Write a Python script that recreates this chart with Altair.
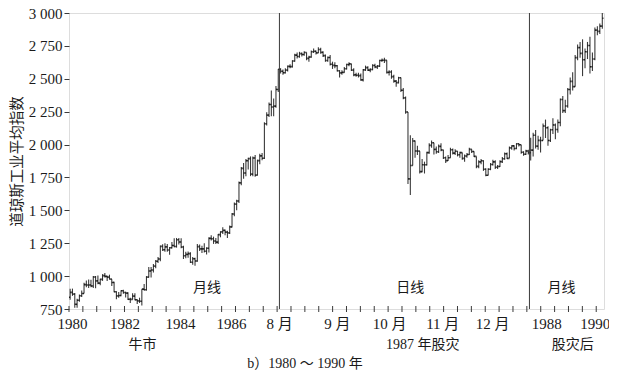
import json
import altair as alt
import pandas as pd

# ---------------- data ----------------
# Segment 1: monthly bars, Jan 1980 - Jul 1987
open1 = [839, 876, 863, 786, 817, 851, 868, 935, 933, 932, 925, 993,
         964, 947, 975, 1004, 998, 992, 977, 952, 881, 850, 853, 889,
         875, 871, 824, 823, 848, 820, 812, 809, 901, 896, 992, 1039,
         1047, 1076, 1113, 1130, 1226, 1200, 1222, 1199, 1216, 1233, 1225, 1276,
         1259, 1221, 1155, 1165, 1171, 1105, 1132, 1115, 1224, 1207, 1207, 1189,
         1212, 1287, 1284, 1267, 1258, 1315, 1336, 1348, 1334, 1329, 1374, 1472,
         1547, 1571, 1709, 1819, 1784, 1877, 1893, 1775, 1898, 1768, 1878, 1914,
         1896, 2158, 2224, 2305, 2286, 2292, 2419]
high1 = [903, 905, 872, 828, 861, 890, 950, 966, 974, 972, 1000, 1000,
         1004, 980, 1015, 1024, 1002, 1011, 977, 958, 884, 879, 892, 896,
         882, 877, 835, 870, 869, 825, 836, 901, 940, 1000, 1070, 1070,
         1093, 1122, 1145, 1233, 1242, 1250, 1245, 1222, 1260, 1287, 1290, 1290,
         1287, 1231, 1185, 1188, 1182, 1145, 1140, 1245, 1240, 1230, 1250, 1220,
         1295, 1310, 1300, 1290, 1320, 1340, 1372, 1355, 1345, 1384, 1480, 1560,
         1580, 1720, 1830, 1860, 1890, 1900, 1910, 1910, 1920, 1885, 1930, 1935,
         2170, 2245, 2320, 2410, 2350, 2445, 2575]
low1 = [820, 850, 759, 759, 805, 842, 868, 915, 910, 915, 910, 908,
        938, 931, 964, 990, 963, 976, 924, 877, 824, 836, 847, 866,
        837, 818, 795, 822, 816, 788, 796, 776, 890, 890, 990, 990,
        1027, 1060, 1100, 1113, 1190, 1185, 1185, 1163, 1210, 1220, 1217, 1240,
        1212, 1130, 1135, 1140, 1100, 1087, 1078, 1110, 1190, 1175, 1180, 1165,
        1180, 1270, 1245, 1245, 1245, 1295, 1320, 1310, 1290, 1320, 1370, 1455,
        1500, 1555, 1690, 1740, 1760, 1810, 1760, 1760, 1755, 1765, 1850, 1880,
        1890, 2145, 2210, 2215, 2215, 2280, 2400]
close1 = [876, 863, 786, 817, 851, 868, 935, 933, 932, 925, 993, 964,
          947, 975, 1004, 998, 992, 977, 952, 881, 850, 853, 889, 875,
          871, 824, 823, 848, 820, 812, 809, 901, 896, 992, 1039, 1047,
          1076, 1113, 1130, 1226, 1200, 1222, 1199, 1216, 1233, 1225, 1276, 1259,
          1221, 1155, 1165, 1171, 1105, 1132, 1115, 1224, 1207, 1207, 1189, 1212,
          1287, 1284, 1267, 1258, 1315, 1336, 1348, 1334, 1329, 1374, 1472, 1547,
          1571, 1709, 1819, 1784, 1877, 1893, 1775, 1898, 1768, 1878, 1914, 1896,
          2158, 2224, 2305, 2286, 2292, 2419, 2572]

# Segment 2: daily bars, Aug - Dec 1987
open2 = [2572, 2557, 2546, 2566, 2594, 2592, 2635, 2680, 2669, 2691, 2685, 2700, 2655, 2665, 2706, 2709, 2697, 2722, 2701, 2676, 2639,
         2662, 2610, 2602, 2599, 2561, 2545, 2549, 2576, 2608, 2613, 2566, 2530, 2527, 2524, 2492, 2568, 2585, 2566, 2570, 2601, 2590,
         2596, 2639, 2641, 2640, 2549, 2551, 2516, 2482, 2471, 2508, 2413, 2355, 2247, 1739, 1841, 2027, 1951, 1950, 1794, 1846, 1847, 1939,
         1994, 2014, 1963, 1945, 1986, 1959, 1900, 1878, 1900, 1960, 1935, 1949, 1922, 1939, 1895, 1913, 1924, 1963, 1947, 1910,
         1834, 1868, 1877, 1812, 1767, 1812, 1848, 1868, 1828, 1833, 1870, 1892, 1930, 1895, 1975, 1990, 1970, 2006, 1999, 1942, 1926, 1951]
high2 = [2580, 2570, 2580, 2600, 2610, 2640, 2690, 2700, 2705, 2700, 2710, 2700, 2675, 2715, 2730, 2715, 2740, 2735, 2710, 2685, 2670,
         2680, 2630, 2625, 2605, 2565, 2565, 2590, 2615, 2625, 2615, 2580, 2545, 2545, 2540, 2575, 2600, 2595, 2580, 2610, 2615, 2605,
         2645, 2655, 2660, 2640, 2565, 2565, 2530, 2490, 2515, 2510, 2430, 2365, 2247, 2070, 2050, 2030, 1990, 1950, 1890, 1870, 1945, 2010,
         2030, 2014, 1985, 2000, 2010, 1960, 1910, 1920, 1975, 1970, 1965, 1950, 1945, 1940, 1925, 1935, 1975, 1965, 1950, 1910,
         1880, 1890, 1880, 1820, 1820, 1860, 1885, 1880, 1845, 1880, 1905, 1940, 1940, 1985, 1995, 1995, 2010, 2010, 1999, 1950, 1960, 1960]
low2 = [2540, 2530, 2540, 2555, 2580, 2585, 2630, 2655, 2660, 2670, 2675, 2640, 2630, 2660, 2695, 2685, 2695, 2690, 2665, 2630, 2630,
        2600, 2575, 2580, 2555, 2510, 2530, 2545, 2570, 2595, 2560, 2520, 2515, 2510, 2485, 2480, 2560, 2560, 2550, 2565, 2580, 2575,
        2590, 2630, 2620, 2540, 2525, 2500, 2470, 2440, 2465, 2400, 2345, 2235, 1700, 1616, 1840, 1900, 1920, 1780, 1790, 1780, 1840, 1930,
        1975, 1925, 1930, 1935, 1950, 1890, 1860, 1875, 1900, 1925, 1920, 1910, 1900, 1885, 1870, 1900, 1920, 1935, 1905, 1820,
        1820, 1850, 1800, 1760, 1765, 1805, 1840, 1815, 1815, 1830, 1860, 1885, 1890, 1895, 1960, 1955, 1965, 1985, 1930, 1915, 1920, 1925]
close2 = [2557, 2546, 2566, 2594, 2592, 2635, 2680, 2669, 2691, 2685, 2700, 2655, 2665, 2706, 2709, 2697, 2722, 2701, 2676, 2639, 2662,
          2610, 2602, 2599, 2561, 2545, 2549, 2576, 2608, 2613, 2566, 2530, 2527, 2524, 2492, 2568, 2585, 2566, 2570, 2601, 2590, 2596,
          2639, 2641, 2640, 2549, 2551, 2516, 2482, 2471, 2508, 2413, 2355, 2247, 1739, 1841, 2027, 1951, 1950, 1794, 1846, 1847, 1939, 1994,
          2014, 1963, 1945, 1986, 1959, 1900, 1878, 1900, 1960, 1935, 1949, 1922, 1939, 1895, 1913, 1924, 1963, 1947, 1910, 1834,
          1868, 1877, 1812, 1767, 1812, 1848, 1868, 1828, 1833, 1870, 1892, 1930, 1895, 1975, 1990, 1970, 2006, 1999, 1942, 1926, 1951, 1939]

# Segment 3: monthly bars, Jan 1988 - Jun 1990
open3 = [1939, 1958, 2071, 1988, 2032, 2031, 2141, 2128, 2031, 2112, 2149, 2114,
         2168, 2342, 2258, 2293, 2419, 2480, 2440, 2661, 2737, 2693, 2645, 2706,
         2753, 2591, 2650, 2870, 2860, 2900]
high3 = [2052, 2090, 2110, 2067, 2060, 2160, 2190, 2140, 2120, 2200, 2160, 2190,
         2350, 2370, 2340, 2430, 2510, 2550, 2680, 2760, 2780, 2800, 2730, 2780,
         2820, 2700, 2890, 2900, 2920, 3000]
low3 = [1879, 1910, 1970, 1960, 1940, 2030, 2050, 1990, 2020, 2080, 2040, 2090,
        2140, 2240, 2240, 2280, 2380, 2410, 2440, 2640, 2660, 2520, 2580, 2650,
        2540, 2560, 2640, 2830, 2840, 2880]
close3 = [1958, 2071, 1988, 2032, 2031, 2141, 2128, 2031, 2112, 2149, 2114, 2168,
          2342, 2258, 2293, 2419, 2480, 2440, 2661, 2737, 2693, 2645, 2706, 2753,
          2591, 2650, 2870, 2860, 2900, 2960]

y_ticks = [750, 1000, 1250, 1500, 1750, 2000, 2250, 2500, 2750, 3000]
x_labels = ["1980", "1982", "1984", "1986", "8 月", "9 月", "10 月", "11 月", "12 月", "1988", "1990"]
x_label_pos = [0.22, 4.0, 8.0, 11.68, 15.14, 19.3, 23.07, 26.9, 30.5, 34.39, 37.9]

inner_text = ["月线", "日线", "月线"]
inner_pos = [9.95, 24.6, 35.5]
group_text = ["牛市", "1987 年股灾", "股灾后"]
group_pos = [5.3, 25.5, 36.3]
caption = "b）1980 ～ 1990 年"

# ---------------- layout of the composite time axis ----------------
MONTH1 = 1 / 6.0      # axis units per month (segment 1)
DAY = 0.17            # axis units per trading day (segment 2)
MONTH3 = 0.178        # axis units per month (segment 3)
XMAX = 38.56
W, H = 535, 296

rows = []
for m in range(len(close1)):
    rows.append(dict(pos=(m + 0.5) * MONTH1, o=open1[m], h=high1[m], l=low1[m], c=close1[m]))
b1 = len(close1) * MONTH1
for i in range(len(close2)):
    rows.append(dict(pos=b1 + (i + 0.5) * DAY, o=open2[i], h=high2[i], l=low2[i], c=close2[i]))
b2 = b1 + len(close2) * DAY
for k in range(len(close3)):
    rows.append(dict(pos=b2 + (k + 0.5) * MONTH3, o=open3[k], h=high3[k], l=low3[k], c=close3[k]))
df = pd.DataFrame(rows)
df["pl"] = df["pos"] - 0.08
df["pr"] = df["pos"] + 0.08

div_df = pd.DataFrame({"pos": [b1, b2]})
tick_df = pd.DataFrame({"u": list(range(0, 39))})
inner_df = pd.DataFrame({"u": inner_pos, "t": inner_text, "v": [910] * 3})
group_df = pd.DataFrame({"u": group_pos, "t": group_text})
cap_df = pd.DataFrame({"t": [caption]})

SERIF = "Liberation Serif, Noto Sans CJK SC"
CJK = "Noto Sans CJK SC, Liberation Serif"
INK = "#1a1a1a"
LINE = "#3a3a3a"

xs = alt.Scale(domain=[0, XMAX], nice=False, zero=False)
ys = alt.Scale(domain=[750, 3000], nice=False, zero=False)

label_expr = "{}[indexof({}, datum.value)]".format(
    json.dumps(x_labels, ensure_ascii=False), json.dumps(x_label_pos))

x_axis = alt.Axis(values=x_label_pos, labelExpr=label_expr, ticks=False, domain=False,
                  grid=False, title=None, labelFont=SERIF, labelFontSize=15,
                  labelColor=INK, labelPadding=7, labelFlush=False, labelOverlap=False)
y_axis = alt.Axis(values=y_ticks, labelExpr="replace(format(datum.value, ','), ',', ' ')",
                  domain=False, grid=False, tickSize=5, tickColor=LINE, tickWidth=1,
                  labelFont=SERIF, labelFontSize=15, labelColor=INK, labelPadding=2,
                  labelOverlap=False, labelFlush=False, labelBound=False,
                  title="道琼斯工业平均指数", titleFont=CJK, titleFontSize=14.5,
                  titleFontWeight="normal", titleColor=INK,
                  titleAngle=270, titleX=-52, titleY=H / 2,
                  titleAlign="center", titleBaseline="middle")


def X(field):
    return alt.X(field, scale=xs, axis=x_axis)


def Y(field):
    return alt.Y(field, scale=ys, axis=y_axis)


hl = alt.Chart(df).mark_rule(color=LINE, strokeWidth=1.1).encode(
    x=X("pos:Q"), y=Y("l:Q"), y2="h:Q")
op = alt.Chart(df).mark_rule(color=INK, strokeWidth=1.6).encode(
    x=X("pl:Q"), x2="pos:Q", y=Y("o:Q"))
cl = alt.Chart(df).mark_rule(color=INK, strokeWidth=1.6).encode(
    x=X("pos:Q"), x2="pr:Q", y=Y("c:Q"))

dividers = alt.Chart(div_df).mark_rule(color=LINE, strokeWidth=1).encode(x=X("pos:Q"))

xticks = alt.Chart(tick_df).mark_rule(color=LINE, strokeWidth=1).encode(
    x=X("u:Q"), y=alt.value(H - 3), y2=alt.value(H + 3))

inner = alt.Chart(inner_df).mark_text(font=CJK, fontSize=14, color=INK, baseline="middle").encode(
    x=X("u:Q"), y=Y("v:Q"), text="t:N")

groups = alt.Chart(group_df).mark_text(font=SERIF, fontSize=14, color=INK, baseline="middle").encode(
    x=X("u:Q"), y=alt.value(H + 36), text="t:N")

cap = alt.Chart(cap_df).mark_text(font=SERIF, fontSize=14, color=INK, baseline="middle").encode(
    x=alt.value(236), y=alt.value(H + 55), text="t:N")

chart = alt.layer(hl, op, cl, dividers, xticks, inner, groups, cap).properties(
    width=W, height=H,
    padding={"left": 61, "top": 5, "right": 5, "bottom": 61},
    autosize=alt.AutoSizeParams(type="none"),
).configure_view(stroke=LINE, strokeWidth=1).configure(background="white").configure_axis(
    labelOverlap=False)

chart.save("out.html", embed_options={"renderer": "svg", "actions": False})
